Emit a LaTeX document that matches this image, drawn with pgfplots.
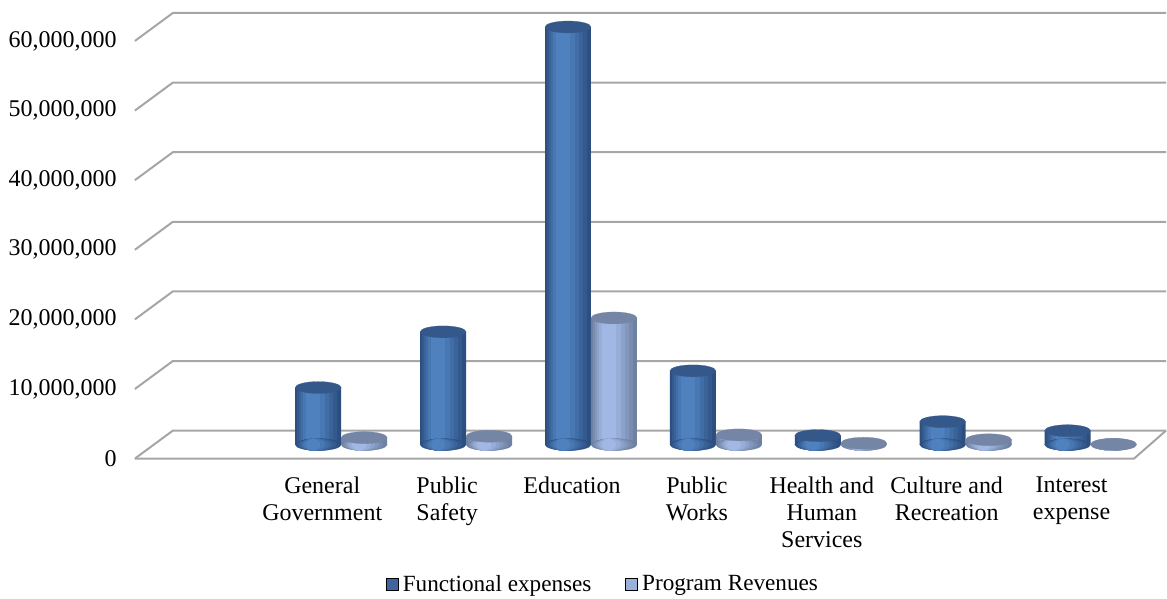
\documentclass[border=0pt]{standalone}
\usepackage{pgfplots}
\usepackage{pgfplotstable}
\pgfplotsset{compat=1.18}
\usepackage{fontspec}
\setmainfont{Liberation Serif}
\definecolor{fdark}{HTML}{2C4F80}
\definecolor{flight}{HTML}{4F81BF}
\definecolor{ftop}{HTML}{35588A}
\definecolor{pdark}{HTML}{6E81A3}
\definecolor{plight}{HTML}{A2B8E4}
\definecolor{ptop}{HTML}{7585A5}
\definecolor{flegend}{HTML}{3D66A0}
\definecolor{plegend}{HTML}{9AAFDA}
\definecolor{gridc}{HTML}{A6A6A6}
\pgfplotsset{sqlegend/.style={legend image code/.code={\fill[##1] (0pt,-3pt) rectangle (6pt,3pt);}}}
\pgfplotstableread{
x y
1 8200000
2 16200000
3 60000000
4 10600000
5 1300000
6 3300000
7 2000000
}\functional
\pgfplotstableread{
x y
1 1000000
2 1200000
3 18200000
4 1400000
5 200000
6 700000
7 50000
}\program
\pgfplotstableread{
x y
1 0
2 0
3 0
4 0
5 0
6 0
7 0
}\zero
\newcommand{\barlayer}[4]{\addplot[forget plot, ybar, bar width=#2, bar shift=#3, draw=none, fill=#4] table[x=x,y=y] {#1};}
\newcommand{\ellipses}[4]{\addplot[forget plot, only marks, mark=*, mark size=11.5pt, mark options={xshift=#2, xscale=#4, yscale=0.26, fill=#3, draw=#3, line width=0.1pt}] table[x=x,y=y] {#1};}
\begin{document}
\begin{tikzpicture}
\path (0,0) rectangle (583.5pt,299pt);
\begin{axis}[
  at={(77pt,76.5pt)}, anchor=south west,
  scale only axis, width=500pt, height=209pt,
  xmin=-0.5, xmax=7.5, ymin=0, ymax=60000000,
  axis line style={draw=none}, tick style={draw=none},
  clip=false,
  xtick={1,2,3,4,5,6,7},
  xticklabels={{General\\Government},{Public\\Safety},{Education},{Public\\Works},{Health and\\Human\\Services},{Culture and\\Recreation},{Interest\\expense}},
  xticklabel style={align=center, anchor=north, inner sep=0pt, yshift=-16pt, xshift=-9.5pt, font=\fontsize{12}{13.5}\selectfont},
  ytick={0,10000000,20000000,30000000,40000000,50000000,60000000},
  scaled y ticks=false,
  yticklabel style={anchor=east, inner sep=0pt, xshift=-18.5pt, yshift=-7pt, font=\fontsize{12}{13.5}\selectfont,
    /pgf/number format/.cd, fixed, precision=0, 1000 sep={,}, assume math mode=true},
  legend style={at={(0.4505,-0.335)}, anchor=center, legend columns=2, draw=none, fill=none,
    font=\fontsize{11.6}{13.5}\selectfont, inner sep=0pt,
    /tikz/every even column/.append style={column sep=15pt}},
  legend cell align=left,
]
\pgfplotsinvokeforeach{0,10000000,20000000,30000000,40000000,50000000,60000000}{
  \draw[gridc, line width=1pt] ([shift={(-9.5pt,-7pt)}]axis cs:-0.5,#1) -- ([shift={(9.5pt,7pt)}]axis cs:-0.5,#1) -- ([shift={(6.5pt,7pt)}]axis cs:7.5,#1);
}
\draw[gridc, line width=1pt] ([shift={(-9.5pt,-7pt)}]axis cs:-0.5,0) -- ([shift={(-9.5pt,-7pt)}]axis cs:7.5,0) -- ([shift={(6.5pt,7pt)}]axis cs:7.5,0);

\addlegendimage{sqlegend, fill=flegend}
\addlegendentry{Functional expenses}
\addlegendimage{sqlegend, fill=plegend}
\addlegendentry{Program Revenues}

% bottom ellipses, shaded like the sides
\ellipses{\zero}{-11.5pt}{fdark}{1}
\ellipses{\zero}{-12.0pt}{flight!20!fdark}{0.8696}
\ellipses{\zero}{-12.5pt}{flight!40!fdark}{0.7391}
\ellipses{\zero}{-13.0pt}{flight!60!fdark}{0.6087}
\ellipses{\zero}{-13.5pt}{flight!80!fdark}{0.4783}
\ellipses{\zero}{-14.0pt}{flight}{0.3043}
\ellipses{\zero}{11.5pt}{pdark}{1}
\ellipses{\zero}{11.0pt}{plight!20!pdark}{0.8696}
\ellipses{\zero}{10.5pt}{plight!40!pdark}{0.7391}
\ellipses{\zero}{10.0pt}{plight!60!pdark}{0.6087}
\ellipses{\zero}{9.5pt}{plight!80!pdark}{0.4783}
\ellipses{\zero}{9.0pt}{plight}{0.3043}
% functional bars (layered to imitate a cylinder's shading)
\barlayer{\functional}{23pt}{-11.5pt}{fdark}
\barlayer{\functional}{20pt}{-12.0pt}{flight!20!fdark}
\barlayer{\functional}{17pt}{-12.5pt}{flight!40!fdark}
\barlayer{\functional}{14pt}{-13.0pt}{flight!60!fdark}
\barlayer{\functional}{11pt}{-13.5pt}{flight!80!fdark}
\barlayer{\functional}{7pt}{-14.0pt}{flight}
% program revenue bars
\barlayer{\program}{23pt}{11.5pt}{pdark}
\barlayer{\program}{20pt}{11.0pt}{plight!20!pdark}
\barlayer{\program}{17pt}{10.5pt}{plight!40!pdark}
\barlayer{\program}{14pt}{10.0pt}{plight!60!pdark}
\barlayer{\program}{11pt}{9.5pt}{plight!80!pdark}
\barlayer{\program}{7pt}{9.0pt}{plight}
% top ellipses
\ellipses{\functional}{-11.5pt}{ftop}{1}
\ellipses{\program}{11.5pt}{ptop}{1}
\end{axis}
\end{tikzpicture}
\end{document}
